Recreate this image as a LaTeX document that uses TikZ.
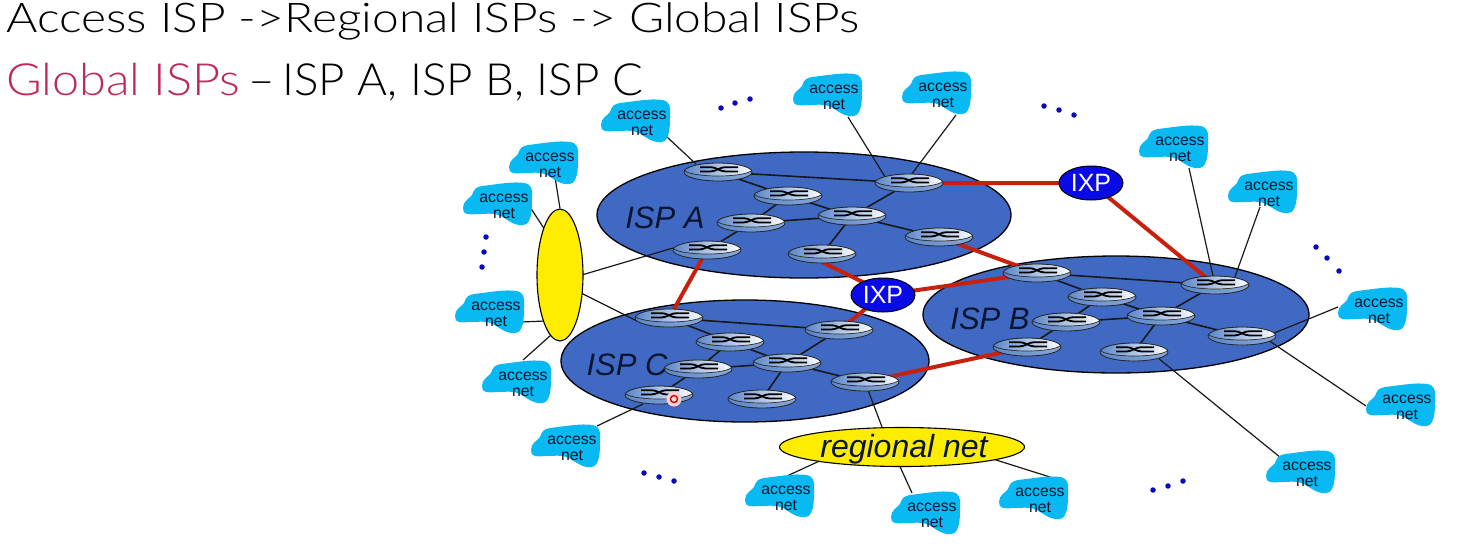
\documentclass[tikz,border=0pt]{standalone}
\usepackage{fontspec}
\setmainfont{Liberation Sans}
\newfontfamily\headfont[UprightFont={* Light}]{Lato}
\usetikzlibrary{shapes.geometric,backgrounds}
\definecolor{ispblue}{HTML}{4069C4}
\definecolor{cloudblue}{HTML}{09B9F2}
\definecolor{ixpblue}{HTML}{0A0AE6}
\definecolor{linkred}{HTML}{C8200F}
\definecolor{dotblue}{HTML}{0808C0}
\definecolor{pubred}{HTML}{BC2A55}
\definecolor{inkdark}{HTML}{0A1530}
\definecolor{rtrblue}{HTML}{5A86C8}
\pgfdeclarelayer{isplayer}
\pgfdeclarelayer{linklayer}
\pgfsetlayers{isplayer,linklayer,main}
\tikzset{
  x=1pt,y=-1pt,
  ispnet/.style={ellipse,draw=black,line width=1.3pt,fill=ispblue,inner sep=0pt,minimum width=#1},
  yellownet/.style={ellipse,draw=black,line width=1.1pt,fill=yellow!95!orange,inner sep=0pt},
  ixpnode/.style={ellipse,draw=black,line width=1pt,fill=ixpblue,text=white,inner sep=0pt,
    minimum width=64pt,minimum height=34pt,font=\fontsize{25}{25}\selectfont},
  isplabel/.style={font=\fontsize{31}{31}\selectfont\itshape,text=inkdark,inner sep=0pt},
  heading/.style={anchor=base west,inner sep=0pt,font=\headfont\fontsize{44.4}{44.4}\selectfont},
  blackline/.style={draw=black!90,line width=1.6pt},
  thinline/.style={draw=black!90,line width=1.2pt},
  redline/.style={draw=linkred,line width=4pt},
  accessnet/.style={rectangle,inner sep=0pt,align=center,
    text=inkdark,font=\fontsize{15.8}{16.5}\selectfont},
  routernode/.style={ellipse,inner sep=0pt,minimum width=68pt,minimum height=18pt,
    draw=black!85,line width=0.8pt,
    path picture={
      \begin{scope}[shift={(path picture bounding box.center)},x=1pt,y=-1pt]
        \fill[left color=rtrblue,middle color=white,right color=rtrblue!70!white] (-36,-11) rectangle (36,11);
        \fill[left color=rtrblue,middle color=white,right color=white]
          (0,-2.6) ellipse [x radius=34pt,y radius=6.6pt];
        \draw[black!80,line width=0.7pt] (0,-2.6) ellipse [x radius=34pt,y radius=6.6pt];
        \draw[black,line width=1.8pt] (-18,-4.8) -- (-7,-4.8) .. controls (-2,-4.8) and (2,-0.6) .. (7,-0.6) -- (20,-0.6);
        \draw[black,line width=1.8pt] (-18,-0.6) -- (-7,-0.6) .. controls (-2,-0.6) and (2,-4.8) .. (7,-4.8) -- (20,-4.8);
      \end{scope}
    }},
  dotmark/.style={circle,fill=dotblue,inner sep=0pt,minimum size=5.5pt},
  pointerring/.style={circle,draw=red!85!black,line width=1.4pt,fill=white!40!red!25,inner sep=0pt,minimum size=7pt},
  pointerglow/.style={circle,fill=red!18,inner sep=0pt,minimum size=15pt},
}
\newcommand{\rtr}[3]{\node[routernode] (#1) at (#2,#3) {};}
\newcommand{\anet}[3]{%
  \fill[cloudblue,shift={(#2,#3)}]
        (-41,3) .. controls (-41,-4) and (-35,-6) .. (-32,-10)
        .. controls (-30,-16) and (-28,-18) .. (-22,-19)
        .. controls (-12,-20) and (10,-24) .. (20,-22)
        .. controls (27,-21) and (29,-16) .. (28,-8)
        .. controls (28,2) and (28,10) .. (25,16)
        .. controls (23,21) and (16,21) .. (11,19)
        .. controls (3,16) and (-2,10) .. (-9,9)
        .. controls (-18,8) and (-30,10) .. (-37,9)
        .. controls (-40,9) and (-41,6) .. (-41,3) -- cycle;
  \node[accessnet] (#1) at (#2,#3+1.5) {access\\net};}
\newcommand{\dotm}[3]{\node[dotmark] (#1) at (#2,#3) {};}
\begin{document}
\begin{tikzpicture}
\useasboundingbox (0,0) rectangle (1470,549);
\begin{pgfonlayer}{isplayer}
  \fill[white] (0,0) rectangle (1470,549);
  \node[ispnet=414pt,minimum height=126pt] (ispA) at (804,215) {};
  \node[ispnet=386pt,minimum height=117pt] (ispB) at (1116,314.5) {};
  \node[ispnet=368pt,minimum height=122pt] (ispC) at (745,361) {};
\end{pgfonlayer}
\node[heading,font=\headfont\fontsize{41}{41}\selectfont] (h1) at (6,32) {\scalebox{1.169}[1]{Access ISP ->Regional ISPs -> Global ISPs}};
\node[heading] (h2) at (6,95) {\scalebox{1.095}[1]{\textcolor{pubred}{Global ISPs}}\scalebox{1.03}[1]{\hspace{-4pt} –\hspace{-5pt} ISP A, ISP B, ISP C}};
\rtr{a1}{718}{172}\rtr{a2}{788}{196}\rtr{a3}{751}{223}\rtr{a4}{707}{250}
\rtr{a5}{852}{216}\rtr{a6}{909}{183}\rtr{a7}{822}{254}\rtr{a8}{939}{237}
\rtr{b1}{1037}{273}\rtr{b2}{1102}{297}\rtr{b3}{1066}{322}\rtr{b4}{1027}{347}
\rtr{b5}{1161}{316}\rtr{b6}{1215}{285}\rtr{b7}{1134}{352}\rtr{b8}{1242}{336}
\rtr{c1}{669}{318}\rtr{c2}{730}{342}\rtr{c3}{698}{369}\rtr{c4}{659}{395}
\rtr{c5}{787}{363}\rtr{c6}{839}{330}\rtr{c7}{762}{399}\rtr{c8}{865}{382}
\node[isplabel] (la) at (665,218) {ISP A};
\node[isplabel] (lb) at (990,319) {ISP B};
\node[isplabel] (lc) at (627,365) {ISP C};
\node[yellownet,minimum width=46pt,minimum height=132pt] (yel) at (560,275) {};
\node[yellownet,minimum width=245pt,minimum height=39pt] (reg) at (902,447) {};
\node[isplabel,font=\fontsize{32}{32}\selectfont\itshape] (regl) at (904,449) {regional net};
\node[ixpnode] (ixp1) at (1091,183) {IXP};
\node[ixpnode] (ixp2) at (883,295) {IXP};
\anet{n1}{642}{122}\anet{n2}{834}{96}\anet{n3}{943}{94}\anet{n4}{550}{164}
\anet{n5}{504}{205}\anet{n6}{496}{313}\anet{n7}{523}{383}\anet{n8}{572}{447}
\anet{n9}{786}{497}\anet{n10}{932}{514}\anet{n11}{1040}{499}\anet{n12}{1307}{473}
\anet{n13}{1407}{406}\anet{n14}{1379}{310}\anet{n15}{1269}{193}\anet{n16}{1180}{148}
\dotm{d1}{721}{108}\dotm{d2}{735}{103}\dotm{d3}{750}{99}
\dotm{d4}{1044}{106}\dotm{d5}{1059}{110}\dotm{d6}{1074}{115}
\dotm{d7}{486}{237}\dotm{d8}{484}{252}\dotm{d9}{482}{267}
\dotm{d10}{1316}{247}\dotm{d11}{1327}{258}\dotm{d12}{1339}{271}
\dotm{d13}{644}{473}\dotm{d14}{659}{477}\dotm{d15}{674}{481}
\dotm{d16}{1153}{490}\dotm{d17}{1168}{486}\dotm{d18}{1183}{481}
\node[pointerglow] (pg) at (674,399) {};
\node[pointerring] (pr) at (674,399) {};
\begin{pgfonlayer}{linklayer}
  \path[blackline]
    (a1.center)--(a6.center) (a1.center)--(a2.center) (a2.center)--(a3.center) (a3.center)--(a4.center)
    (a2.center)--(a5.center) (a3.center)--(a5.center) (a5.center)--(a6.center) (a5.center)--(a7.center) (a5.center)--(a8.center)
    (b1.center)--(b6.center) (b1.center)--(b2.center) (b2.center)--(b3.center) (b3.center)--(b4.center)
    (b2.center)--(b5.center) (b3.center)--(b5.center) (b5.center)--(b6.center) (b5.center)--(b7.center) (b5.center)--(b8.center)
    (c1.center)--(c6.center) (c1.center)--(c2.center) (c2.center)--(c3.center) (c3.center)--(c4.center)
    (c2.center)--(c5.center) (c3.center)--(c5.center) (c5.center)--(c6.center) (c5.center)--(c7.center) (c5.center)--(c8.center);
  \path[thinline]
    ([shift={(25,13.5)}]n1.center)--([shift={(-22,-8)}]a1.center)
    ([shift={(14,19.5)}]n2.center)--([shift={(-22,-3)}]a6.center)
    ([shift={(13,19.5)}]n3.center)--([shift={(-1,-4)}]a6.center)
    ([shift={(5,11.5)}]n4.center)--(yel.north)
    ([shift={(26,0.5)}]n5.center)--([shift={(-15,-45)}]yel.center)
    ([shift={(25,7.5)}]n6.center)--([shift={(-15,46)}]yel.center)
    ([shift={(0,-24.5)}]n7.center)--([shift={(-9,60)}]yel.center)
    ([shift={(-34,-2)}]a4.center)--([shift={(15,2)}]yel.center)
    ([shift={(-32,3)}]c1.center)--([shift={(15,15)}]yel.center)
    ([shift={(25,-22.5)}]n8.center)--([shift={(-16,9)}]c4.center)
    (c8.center)--([shift={(-20,-20)}]reg.center)
    ([shift={(1,-22.5)}]n9.center)--([shift={(-76,11)}]reg.center)
    ([shift={(-20,-22.5)}]n10.center)--([shift={(-5,13)}]reg.center)
    ([shift={(10,-23.5)}]n11.center)--([shift={(83,9.5)}]reg.center)
    ([shift={(-26,-16.5)}]n12.center)--([shift={(16,-0.5)}]b7.center)
    ([shift={(-41,-1.5)}]n13.center)--([shift={(20,0)}]b8.center)
    ([shift={(-41,-4.5)}]n14.center)--([shift={(20,2)}]b8.center)
    ([shift={(-9,12.5)}]n15.center)--([shift={(17,0)}]b6.center)
    ([shift={(9,18.5)}]n16.center)--(b6.center);
  \path[redline]
    (a6.center)--(ixp1.center) (ixp1.center)--(b6.center) ([shift={(0,8)}]a7.center)--([shift={(0,-3)}]ixp2.center)
    (a8.center)--(b1.center) (ixp2.center)--(b1.center) (ixp2.center)--(c6.center)
    (a4.center)--(c1.center) (c8.center)--(b4.center);
\end{pgfonlayer}
\end{tikzpicture}
\end{document}
